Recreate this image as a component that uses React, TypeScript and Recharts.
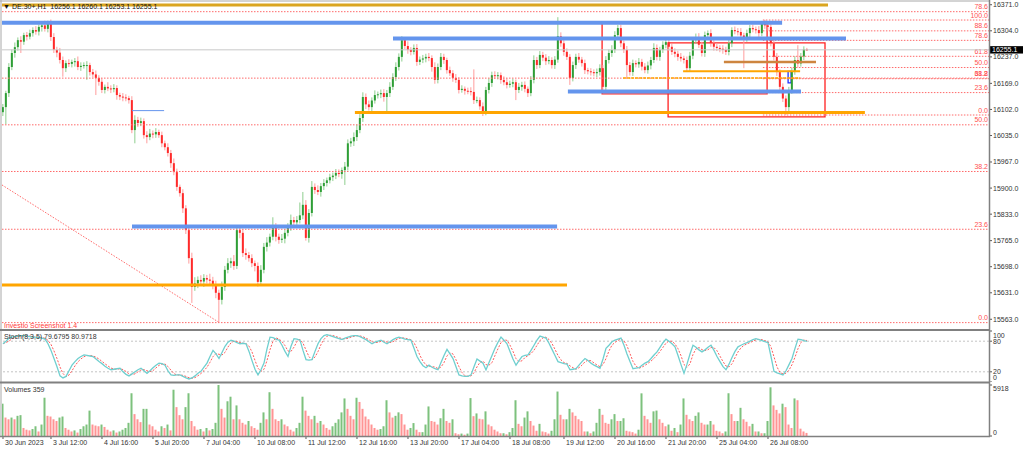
import React from "react";
import { ComposedChart, Bar, Line, XAxis, YAxis, ReferenceLine, ReferenceArea } from "recharts";

// ---------- data ----------
const firstOpen = 16095;
const closes = [
  16108, 16144, 16211, 16247, 16262, 16280, 16276, 16293, 16289, 16298,
  16306, 16302, 16314, 16318, 16309, 16327, 16288, 16255, 16248, 16229,
  16208, 16221, 16219, 16224, 16226, 16211, 16214, 16216, 16216, 16198,
  16192, 16183, 16173, 16152, 16160, 16156, 16154, 16157, 16139, 16135,
  16133, 16131, 16126, 16049, 16075, 16067, 16072, 16036, 16031, 16040,
  16038, 16044, 16036, 16015, 16005, 15990, 15964, 15941, 15903, 15887,
  15848, 15792, 15720, 15646, 15655, 15664, 15660, 15669, 15665, 15662,
  15650, 15631, 15613, 15646, 15690, 15707, 15712, 15700, 15792, 15785,
  15733, 15728, 15720, 15707, 15700, 15659, 15690, 15749, 15760, 15775,
  15800, 15775, 15767, 15770, 15785, 15800, 15818, 15812, 15818, 15830,
  15857, 15772, 15836, 15903, 15895, 15890, 15905, 15913, 15920, 15928,
  15932, 15939, 15936, 15946, 15955, 16015, 16020, 16031, 16049, 16080,
  16134, 16115, 16108, 16125, 16139, 16141, 16144, 16134, 16144, 16160,
  16185, 16211, 16237, 16280, 16265, 16255, 16250, 16260, 16224, 16230,
  16233, 16237, 16234, 16211, 16178, 16211, 16237, 16229, 16203, 16195,
  16183, 16178, 16152, 16155, 16150, 16149, 16147, 16126, 16126, 16110,
  16095, 16152, 16170, 16190, 16188, 16190, 16178, 16172, 16165, 16168,
  16172, 16152, 16160, 16165, 16155, 16144, 16178, 16229, 16216, 16242,
  16235, 16226, 16229, 16216, 16230, 16290, 16272, 16250, 16237, 16183,
  16216, 16237, 16230, 16221, 16203, 16200, 16198, 16195, 16198, 16208,
  16160, 16229, 16247, 16255, 16293, 16311, 16272, 16255, 16216, 16198,
  16221, 16218, 16224, 16212, 16203, 16215, 16229, 16260, 16237, 16255,
  16268, 16275, 16263, 16250, 16245, 16237, 16233, 16229, 16208, 16240,
  16280, 16288, 16268, 16247, 16293, 16298, 16272, 16263, 16260, 16258,
  16255, 16250, 16272, 16306, 16303, 16301, 16292, 16285, 16298, 16311,
  16308, 16306, 16298, 16324, 16318, 16314, 16272, 16237, 16198, 16160,
  16130, 16108, 16150, 16200, 16229, 16220, 16238, 16256.1, 16255.1,
];
const wickUp = [
  8, 6, 10, 9, 12, 7, 10, 6, 8, 9,
  7, 10, 6, 9, 12, 3, 6, 10, 8, 12,
  9, 7, 10, 6, 8, 12, 9, 7, 10, 6,
  8, 10, 7, 9, 6, 12, 8, 10, 7, 6,
  9, 8, 6, 10, 12, 8, 9, 7, 10, 12,
  8, 10, 6, 9, 7, 10, 8, 12, 9, 6,
  10, 8, 12, 14, 16, 9, 12, 10, 8, 15,
  10, 12, 8, 14, 10, 13, 9, 16, 12, 10,
  9, 12, 8, 10, 7, 9, 12, 10, 14, 8,
  25, 10, 8, 12, 9, 10, 14, 8, 10, 33,
  33, 12, 10, 15, 9, 12, 8, 10, 7, 9,
  8, 10, 9, 7, 12, 10, 9, 12, 14, 10,
  12, 9, 10, 8, 12, 7, 9, 10, 8, 12,
  10, 12, 9, 10, 8, 12, 7, 9, 10, 8,
  9, 8, 10, 7, 12, 9, 10, 8, 6, 9,
  8, 10, 7, 9, 6, 8, 10, 58, 9, 7,
  10, 8, 12, 9, 10, 8, 7, 9, 10, 8,
  9, 7, 10, 8, 9, 6, 10, 12, 8, 10,
  8, 9, 10, 7, 9, 49, 10, 8, 9, 7,
  9, 8, 10, 7, 9, 6, 8, 7, 9, 10,
  8, 10, 9, 12, 10, 8, 9, 7, 10, 8,
  9, 7, 10, 8, 9, 10, 8, 12, 9, 8,
  9, 10, 8, 7, 9, 8, 10, 7, 9, 10,
  8, 9, 10, 8, 9, 7, 10, 8, 9, 7,
  9, 8, 10, 7, 9, 8, 10, 7, 9, 8,
  9, 7, 10, 5, 8, 10, 9, 8, 10, 7,
  9, 8, 10, 9, 10, 38, 9, 8, 4,
];
const wickDown = [
  10, 44, 10, 8, 12, 9, 29, 8, 10, 7,
  9, 8, 10, 12, 7, 9, 10, 8, 12, 9,
  22, 10, 8, 9, 12, 8, 10, 7, 38, 9,
  8, 44, 10, 8, 9, 7, 10, 8, 12, 9,
  10, 8, 9, 8, 34, 10, 8, 9, 16, 8,
  10, 9, 7, 10, 8, 9, 12, 8, 10, 9,
  12, 10, 14, 41, 10, 12, 9, 14, 10, 12,
  10, 14, 57, 12, 10, 9, 12, 10, 8, 14,
  10, 12, 9, 10, 14, 12, 10, 9, 12, 10,
  9, 12, 10, 8, 12, 9, 10, 12, 8, 9,
  10, 7, 12, 9, 10, 8, 12, 10, 9, 8,
  10, 9, 8, 12, 38, 10, 9, 12, 10, 8,
  10, 12, 9, 10, 8, 9, 10, 12, 39, 10,
  8, 10, 9, 12, 8, 10, 9, 7, 10, 8,
  9, 10, 8, 12, 10, 9, 8, 10, 9, 7,
  10, 8, 9, 7, 10, 8, 9, 10, 8, 9,
  10, 8, 9, 10, 8, 9, 10, 8, 9, 7,
  9, 26, 8, 10, 9, 10, 8, 9, 10, 8,
  9, 10, 8, 9, 10, 8, 9, 10, 8, 18,
  9, 10, 8, 9, 10, 8, 9, 8, 10, 9,
  10, 8, 9, 10, 8, 9, 10, 8, 33, 9,
  10, 8, 9, 10, 8, 9, 10, 8, 9, 10,
  8, 9, 10, 8, 9, 10, 8, 9, 10, 8,
  9, 10, 8, 9, 10, 8, 9, 10, 8, 9,
  10, 8, 9, 10, 8, 9, 10, 77, 9, 10,
  8, 9, 10, 8, 9, 10, 8, 9, 10, 8,
  9, 21, 10, 8, 9, 10, 8, 9, 2,
];
const volumes = [
  3750, 2140, 1940, 2140, 1940, 2340, 2420, 930, 730, 650, 810, 1130, 525, 1330,
  4440, 2340, 2260, 1940, 1740, 2140, 2260, 930, 730, 525, 650, 400, 810, 1130, 1330,
  2945, 1330, 1210, 1130, 1330, 1050, 730, 525, 650, 400, 525, 730, 930, 1530,
  4960, 2540, 1940, 1610, 3150, 3150, 1330, 1130, 730, 525, 1130, 930, 1330, 650,
  5370, 3350, 2420, 1940, 3350, 4960, 1740, 1130, 730, 810, 525, 930, 650, 810, 1530,
  5918, 3150, 2140, 4030, 4560, 1940, 3550, 1940, 1530, 1330, 1740, 1130, 930, 730, 1530, 2740, 1940,
  5080, 3150, 1940, 1740, 1940, 1330, 1130, 730, 525, 930, 1530,
  4560, 2945, 2340, 1940, 2340, 1530, 1740, 1330, 930, 730, 1130, 1530, 1940, 2740,
  4360, 3150, 2340, 1940, 4440, 3950, 3150, 2260, 1940, 1330, 930, 730, 810, 1130, 4150, 2740, 2140, 2340,
  2744, 2540, 1330, 730, 930, 1500, 730, 445, 445, 1330,
  3430, 1740, 1650, 1330, 2060, 3150, 1740, 1530, 1940, 320,
  200, 280, 150, 280, 4400, 2300, 2620, 2000, 1940, 2860,
  1330, 1130, 730, 525, 320, 320, 200, 445, 930, 4150,
  1410, 1130, 2140, 2860, 1740, 1210, 606, 1410, 525, 445,
  280, 606, 1940, 5160, 2460, 1940, 1940, 3150, 2740, 2340,
  1940, 1740, 525, 525, 320, 525, 1530, 3150, 2460, 1530,
  1410, 1940, 2540, 1740, 1740, 2060, 606, 525, 445, 280,
  730, 4950, 2340, 1940, 1530, 2860, 2950, 1940, 1530, 1130,
  1330, 606, 930, 445, 1330, 4360, 2460, 1940, 1740, 2340,
  2740, 1530, 1330, 1330, 1740, 1330, 606, 525, 320, 525,
  4960, 2540, 1740, 1740, 3270, 1940, 1650, 1130, 1410, 525,
  525, 320, 320, 1740, 5650, 3550, 3030, 2620, 3750, 3350,
  1330, 930, 4360, 4150, 850, 525, 359,
];
const stochMain = [
  75, 80, 86, 88, 89, 90, 91, 91, 90, 89,
  88, 88, 87, 86, 84, 75, 62, 46, 30, 12,
  8, 11, 22, 33, 40, 46, 50, 53, 52, 51,
  50, 45, 40, 36, 31, 27, 24, 25, 26, 27,
  20, 15, 12, 16, 20, 24, 27, 22, 17, 22,
  28, 33, 37, 36, 33, 22, 14, 13, 14, 14,
  11, 8, 6, 8, 12, 17, 21, 29, 37, 50,
  62, 55, 46, 58, 70, 78, 82, 80, 77, 75,
  76, 75, 60, 42, 25, 14, 24, 37, 65, 88,
  87, 84, 82, 72, 60, 50, 70, 85, 84, 82,
  62, 44, 43, 44, 60, 75, 85, 91, 93, 91,
  89, 87, 85, 83, 86, 88, 90, 91, 91, 89,
  86, 83, 79, 75, 78, 80, 82, 78, 75, 79,
  83, 86, 88, 86, 84, 83, 82, 66, 50, 40,
  32, 28, 33, 29, 26, 24, 38, 52, 64, 55,
  46, 30, 14, 12, 11, 11, 14, 30, 45, 41,
  37, 24, 38, 52, 66, 78, 88, 82, 75, 60,
  45, 33, 42, 50, 52, 53, 62, 72, 82, 90,
  88, 86, 76, 64, 52, 40, 38, 36, 35, 24,
  25, 26, 33, 40, 46, 42, 37, 33, 30, 27,
  45, 66, 72, 79, 82, 84, 86, 72, 55, 40,
  26, 27, 28, 33, 37, 40, 46, 53, 59, 68,
  77, 84, 80, 75, 69, 52, 34, 17, 35, 55,
  72, 68, 63, 59, 63, 68, 72, 62, 50, 40,
  30, 24, 35, 48, 60, 69, 72, 75, 77, 80,
  83, 85, 83, 81, 79, 77, 50, 21, 18, 16,
  14, 22, 34, 46, 66, 84, 83, 81, 79.68,
];
const timeTickBars = [0, 16, 33, 50, 67, 84, 101, 118, 135, 152, 169, 187, 204, 221, 238, 255];
const timeTickLabels = [
  "30 Jun 2023", "3 Jul 12:00", "4 Jul 16:00", "5 Jul 20:00", "7 Jul 04:00", "10 Jul 08:00",
  "11 Jul 12:00", "12 Jul 16:00", "13 Jul 20:00", "17 Jul 04:00", "18 Jul 08:00", "19 Jul 12:00",
  "20 Jul 16:00", "21 Jul 20:00", "25 Jul 04:00", "26 Jul 08:00",
];
const priceTicks = [16371, 16304, 16237, 16169, 16102, 16035, 15967, 15900, 15833, 15765, 15698, 15631, 15563];
const stochTicks = [0, 20, 80, 100];
const stochLevels = [20, 80];
const volumeTicks = [0, 5918];
const fibLevels = [0, 23.6, 38.2, 50, 61.8, 78.6, 88.6, 100];
const fibSets = [
  { low: 15554.4, high: 16570.6, fromBar: -0.333 },
  { low: 16087.7, high: 16331.7, fromBar: 253.3 },
];
const lastPrice = 16255.1;
const levelLines = [
  { kind: "gold", price: 16370, from: -0.333, to: 275 },
  { kind: "blue", price: 16325, from: -0.333, to: 259.7 },
  { kind: "blue", price: 16284, from: 130, to: 281 },
  { kind: "blue", price: 16148, from: 188.3, to: 266 },
  { kind: "blue", price: 15801, from: 43, to: 184.7 },
  { kind: "blueThin", price: 16099, from: 43, to: 53.7 },
  { kind: "orange", price: 15651, from: -0.333, to: 188 },
  { kind: "orange", price: 16094, from: 117.3, to: 287.3 },
  { kind: "orangeMid", price: 16200, from: 226.7, to: 265.7 },
  { kind: "orangeThin", price: 16183, from: 206.7, to: 265.7 },
  { kind: "brown", price: 16224, from: 240.3, to: 271 },
];
const boxes = [
  { kind: "red", x1: 199.7, x2: 254.7, y1: 16142, y2: 16327 },
  { kind: "red", x1: 221.7, x2: 274, y1: 16083, y2: 16273 },
  { kind: "blue", x1: 261.7, x2: 262.7, y1: 16170, y2: 16200 },
];
const trendLine = [
  { bar: -0.333, price: 15908 },
  { bar: 72, price: 15555 },
];

// ---------- derived rows ----------
const rows = closes.map((c, i) => {
  const o = i === 0 ? firstOpen : closes[i - 1];
  const hi = Math.max(o, c) + wickUp[i];
  const lo = Math.min(o, c) - wickDown[i];
  const win = stochMain.slice(Math.max(0, i - 2), i + 1);
  const d = win.reduce((a, b) => a + b, 0) / win.length;
  return {
    i, o, c, hl: [lo, hi],
    vol: volumes[i],
    volUp: i === 0 ? true : volumes[i] >= volumes[i - 1],
    k: stochMain[i], d,
  };
});

// ---------- styles ----------
const FONT = "'Liberation Sans', Arial, 'DejaVu Sans', sans-serif";
const X_DOMAIN: [number, number] = [-0.333, 328.667];
const lineStyles: any = {
  gold: { stroke: "#daa520", w: 3 },
  blue: { stroke: "#6495ed", w: 4 },
  blueThin: { stroke: "#6495ed", w: 1 },
  orange: { stroke: "#ffa500", w: 3 },
  orangeMid: { stroke: "#ffa500", w: 2 },
  orangeThin: { stroke: "#ffa500", w: 1.5, dash: "3 1" },
  brown: { stroke: "#cd853f", w: 2.5 },
};
const boxStyles: any = { red: "#ff2020", blue: "#1f2fff" };

const Candle = (p: any) => {
  const { x, y, width, height, payload } = p;
  if (x == null || y == null) return null;
  const top = Math.min(y, y + height);
  const h = Math.abs(height);
  const [lo, hi] = payload.hl;
  const span = hi - lo || 1;
  const py = (v: number) => top + ((hi - v) / span) * h;
  const cx = x + width / 2;
  const bull = payload.c >= payload.o;
  const bTop = py(Math.max(payload.o, payload.c));
  const bBot = py(Math.min(payload.o, payload.c));
  return (
    <g>
      <line x1={cx} x2={cx} y1={top} y2={top + h} stroke={bull ? "#8fcf8f" : "#ff9c9c"} strokeWidth={1} />
      <rect x={cx - 1} y={bTop} width={2} height={Math.max(1, bBot - bTop)} fill={bull ? "#2e9e36" : "#ff2a2a"} />
    </g>
  );
};

const VolBar = (p: any) => {
  const { x, y, width, height, payload } = p;
  if (x == null || y == null) return null;
  const cx = x + width / 2;
  return <rect x={cx - 1} y={Math.min(y, y + height)} width={2} height={Math.abs(height)} fill={payload.volUp ? "#7dc17d" : "#ff9494"} />;
};

const makeYTick = (fmt: (v: number) => string, shift: (v: number) => number) => (p: any) => {
  const { x, y, payload } = p;
  const v = payload.value;
  return (
    <g>
      <line x1={x + 1} x2={x + 3} y1={y} y2={y} stroke="#555" strokeWidth={1} />
      <text x={x + 4} y={y + shift(v) + 2.5} fontSize={7} fontFamily={FONT} fill="#333">{fmt(v)}</text>
    </g>
  );
};
const priceTick = makeYTick((v) => v.toFixed(1), () => 0);
const stochTick = makeYTick((v) => String(v), (v) => (v === 100 ? 4 : v === 0 ? -4.7 : 0));
const volTick = makeYTick((v) => String(v), (v) => (v === 0 ? -3.7 : 3.3));

const TimeTick = (p: any) => {
  const { x, y, payload } = p;
  const idx = timeTickBars.indexOf(payload.value);
  return (
    <g>
      <line x1={x} x2={x} y1={y} y2={y + 3} stroke="#555" strokeWidth={1} />
      <text x={x + 2} y={y + 8.5} fontSize={7} fontFamily={FONT} fill="#333">{timeTickLabels[idx]}</text>
    </g>
  );
};

const fibLabel = (txt: string) => (p: any) => {
  const vb = p.viewBox || {};
  return (
    <text x={vb.x + vb.width - 1} y={vb.y - 2.5} textAnchor="end" fontSize={7} fontFamily={FONT} fill="#ff4f4f">{txt}</text>
  );
};

const priceBox = (p: any) => {
  const vb = p.viewBox || {};
  const x0 = vb.x + vb.width + 1;
  return (
    <g>
      <rect x={x0} y={vb.y - 3.7} width={33} height={7.4} fill="#000" />
      <text x={x0 + 2} y={vb.y + 2.5} fontSize={7} fontFamily={FONT} fill="#fff">{lastPrice.toFixed(1)}</text>
    </g>
  );
};

export default function App() {
  const fibLines: any[] = [];
  fibSets.forEach((f, si) => {
    fibLevels.forEach((lv) => {
      const price = f.low + ((f.high - f.low) * lv) / 100;
      if (price < 15538 || price > 16378) return;
      fibLines.push(
        <ReferenceLine
          key={`fib${si}-${lv}`}
          segment={[{ x: f.fromBar, y: price }, { x: X_DOMAIN[1], y: price }]}
          stroke="#ff6a6a"
          strokeWidth={1}
          strokeDasharray="1.5 1.5"
          label={fibLabel(lv.toFixed(1))}
        />
      );
    });
  });

  return (
    <div style={{ position: "absolute", left: 0, top: 0, width: 1024, height: 449, background: "#fff", overflow: "hidden" }}>
      {/* main price panel */}
      <div style={{ position: "absolute", left: 0, top: 0 }}>
        <ComposedChart width={1024} height={329} data={rows} margin={{ top: 2, right: 0, bottom: 0, left: 2 }}>
          <XAxis dataKey="i" type="number" domain={X_DOMAIN} hide allowDataOverflow />
          <YAxis
            orientation="right" type="number" width={35} domain={[15538, 16378]} ticks={priceTicks}
            interval={0} allowDataOverflow axisLine={false} tickLine={false} tickSize={0} tickMargin={0} tick={priceTick}
          />
          {fibLines}
          <ReferenceLine y={lastPrice} stroke="#c8c8c8" strokeWidth={1} label={priceBox} />
          <ReferenceLine
            segment={[{ x: trendLine[0].bar, y: trendLine[0].price }, { x: trendLine[1].bar, y: trendLine[1].price }]}
            stroke="#ff6a6a" strokeWidth={1} strokeDasharray="1.5 1.5"
          />
          <Bar dataKey="hl" barSize={3} shape={Candle} isAnimationActive={false} />
          {levelLines.map((l, n) => (
            <ReferenceLine
              key={`lv${n}`}
              segment={[{ x: l.from, y: l.price }, { x: l.to, y: l.price }]}
              stroke={lineStyles[l.kind].stroke}
              strokeWidth={lineStyles[l.kind].w}
              strokeDasharray={lineStyles[l.kind].dash}
            />
          ))}
          {boxes.map((b, n) => (
            <ReferenceArea
              key={`bx${n}`} x1={b.x1} x2={b.x2} y1={b.y1} y2={b.y2}
              fill="none" fillOpacity={0} stroke={boxStyles[b.kind]} strokeWidth={1.3}
            />
          ))}
        </ComposedChart>
      </div>

      {/* stochastic panel */}
      <div style={{ position: "absolute", left: 0, top: 330 }}>
        <ComposedChart width={1024} height={52} data={rows} margin={{ top: 1, right: 0, bottom: 0, left: 2 }}>
          <XAxis dataKey="i" type="number" domain={X_DOMAIN} hide allowDataOverflow />
          <YAxis
            orientation="right" type="number" width={35} domain={[0, 100]} ticks={stochTicks}
            interval={0} allowDataOverflow axisLine={false} tickLine={false} tickSize={0} tickMargin={0} tick={stochTick}
          />
          {stochLevels.map((lv) => (
            <ReferenceLine key={`sl${lv}`} y={lv} stroke="#c4c4c4" strokeDasharray="2 2" />
          ))}
          <Line dataKey="d" stroke="#ff5a5a" strokeWidth={1} strokeDasharray="2 1.5" dot={false} isAnimationActive={false} />
          <Line dataKey="k" stroke="#6fcfcf" strokeWidth={1.3} dot={false} isAnimationActive={false} />
        </ComposedChart>
      </div>

      {/* volume panel */}
      <div style={{ position: "absolute", left: 0, top: 382 }}>
        <ComposedChart width={1024} height={67} data={rows} margin={{ top: 3, right: 0, bottom: 0, left: 2 }}>
          <XAxis
            dataKey="i" type="number" domain={X_DOMAIN} ticks={timeTickBars} interval={0} height={13}
            allowDataOverflow axisLine={false} tickLine={false} tickSize={0} tickMargin={0} tick={TimeTick}
          />
          <YAxis
            orientation="right" type="number" width={35} domain={[0, 5918]} ticks={volumeTicks}
            interval={0} allowDataOverflow axisLine={false} tickLine={false} tickSize={0} tickMargin={0} tick={volTick}
          />
          <Bar dataKey="vol" barSize={2} shape={VolBar} isAnimationActive={false} />
        </ComposedChart>
      </div>

      {/* frame and texts */}
      <svg width={1024} height={449} style={{ position: "absolute", left: 0, top: 0, pointerEvents: "none" }}>
        <line x1={0} x2={990} y1={1} y2={1} stroke="#a8a8a8" strokeWidth={1} />
        <line x1={1} x2={1} y1={0} y2={437} stroke="#a8a8a8" strokeWidth={1} />
        <line x1={0} x2={990} y1={330} y2={330} stroke="#808080" strokeWidth={2} />
        <line x1={0} x2={990} y1={382.5} y2={382.5} stroke="#808080" strokeWidth={2} />
        <line x1={0} x2={990} y1={436.5} y2={436.5} stroke="#808080" strokeWidth={1.5} />
        <line x1={989.5} x2={989.5} y1={0} y2={437} stroke="#808080" strokeWidth={1.5} />
        <text x={3} y={8.8} fontSize={7} fontFamily={FONT} fill="#111">▼</text>
        <text x={12} y={8.8} fontSize={7} fontFamily={FONT} fill="#111" style={{ whiteSpace: "pre" }}>
          {"DE.30+,H1  16256.1 16260.1 16253.1 16255.1"}
        </text>
        <text x={4} y={327.5} fontSize={7} fontFamily={FONT} fill="#ff3c3c">Investio Screenshot 1.4</text>
        <text x={4} y={338.5} fontSize={7} fontFamily={FONT} fill="#333">Stoch(8,3,5) 79.6795 80.9718</text>
        <text x={4} y={391.5} fontSize={7} fontFamily={FONT} fill="#333">Volumes 359</text>
      </svg>
    </div>
  );
}
